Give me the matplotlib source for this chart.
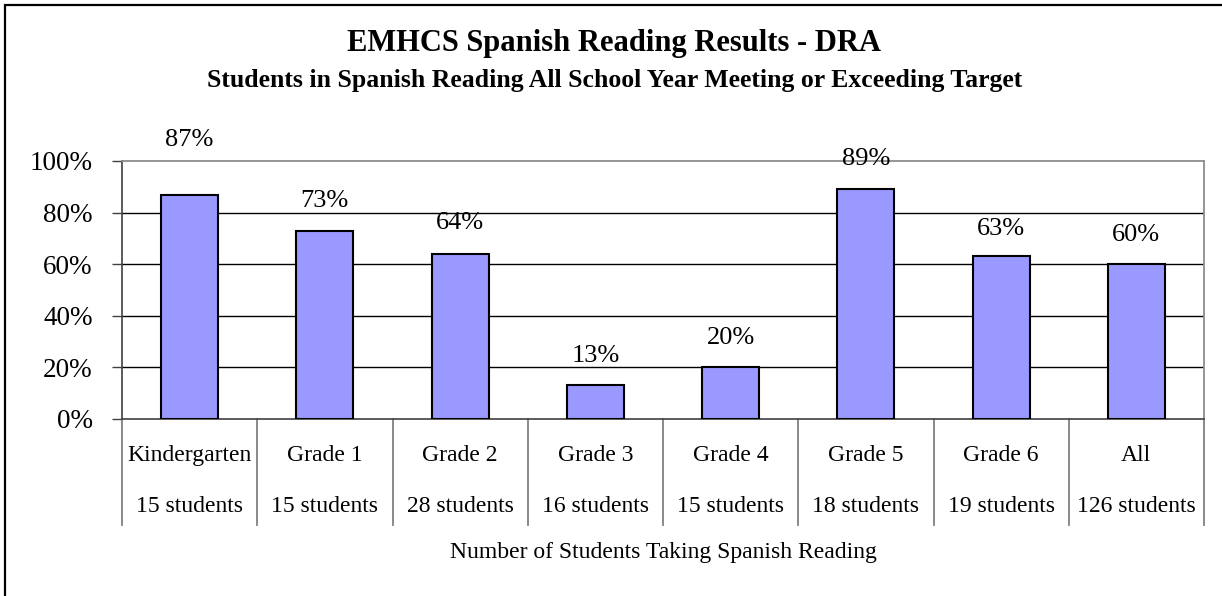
import matplotlib
matplotlib.use('Agg')
import matplotlib.pyplot as plt
from matplotlib.patches import Rectangle
from matplotlib.transforms import blended_transform_factory

# Data
grades = ['Kindergarten', 'Grade 1', 'Grade 2', 'Grade 3', 'Grade 4',
          'Grade 5', 'Grade 6', 'All']
students = [15, 15, 28, 16, 15, 18, 19, 126]
pct_meeting = [0.87, 0.73, 0.64, 0.13, 0.20, 0.89, 0.63, 0.60]

# label offsets above bar top (points), the kindergarten one sits higher
label_offsets = [39, 21, 22, 21, 21, 22, 20, 21]

plt.rcParams['font.family'] = ['Liberation Serif', 'DejaVu Serif']

fig = plt.figure(figsize=(12.22, 5.96), dpi=100)
ax = fig.add_axes([122 / 1222, 1 - 419 / 596, (1204 - 122) / 1222, (419 - 161) / 596])

x = list(range(len(grades)))
ax.bar(x, pct_meeting, width=0.42, color='#9999FF', edgecolor='black',
       linewidth=1.5, zorder=3)

ax.set_xlim(-0.5, len(grades) - 0.5)
ax.set_ylim(0, 1)
ax.set_yticks([0, 0.2, 0.4, 0.6, 0.8, 1.0])
ax.set_yticklabels(['{}%'.format(int(round(v * 100))) for v in ax.get_yticks()])
ax.tick_params(axis='y', direction='out', length=7.2, width=1, color='#404040',
               labelsize=19.5, pad=14)
ax.set_xticks([])

# Gridlines (black), frame grey
for v in [0.2, 0.4, 0.6, 0.8]:
    ax.axhline(v, color='black', linewidth=1, zorder=1)
for side in ['top', 'right']:
    ax.spines[side].set_color('#8c8c8c')
    ax.spines[side].set_linewidth(1.3)
ax.spines['left'].set_color('#404040')
ax.spines['left'].set_linewidth(1.2)
ax.spines['bottom'].set_color('#404040')
ax.spines['bottom'].set_linewidth(1.2)

# Value labels
for xi, v, off in zip(x, pct_meeting, label_offsets):
    ax.annotate('{}%'.format(int(round(v * 100))), (xi, v),
                xytext=(0, off), textcoords='offset points',
                ha='center', va='center', fontsize=19, zorder=4,
                annotation_clip=False)

# Two-level category labels with dividers
trans = blended_transform_factory(ax.transData, ax.transAxes)
for k in range(len(grades) + 1):
    ax.plot([k - 0.5, k - 0.5], [0, -0.41], transform=trans, color='#808080',
            linewidth=1.3, clip_on=False)
for xi, g, n in zip(x, grades, students):
    ax.text(xi, -0.14, g, transform=trans, ha='center', va='center', fontsize=17)
    ax.text(xi, -0.34, '{} students'.format(n), transform=trans,
            ha='center', va='center', fontsize=17)

ax.text(0.5, -0.516, 'Number of Students Taking Spanish Reading',
        transform=ax.transAxes, ha='center', va='center', fontsize=17)

# Titles
fig.text(614 / 1222, 1 - 44 / 596, 'EMHCS Spanish Reading Results - DRA',
         ha='center', va='center', fontsize=22, fontweight='bold')
fig.text(615 / 1222, 1 - 80 / 596,
         'Students in Spanish Reading All School Year Meeting or Exceeding Target',
         ha='center', va='center', fontsize=18.5, fontweight='bold')

# Chart area border (runs off the right and bottom edges)
fig.patches.append(Rectangle((5 / 1222, -0.1), 1.2, 1 - 5 / 596 + 0.1,
                             transform=fig.transFigure, fill=False,
                             edgecolor='black', linewidth=1.6))

fig.savefig('out.png', dpi=100)
